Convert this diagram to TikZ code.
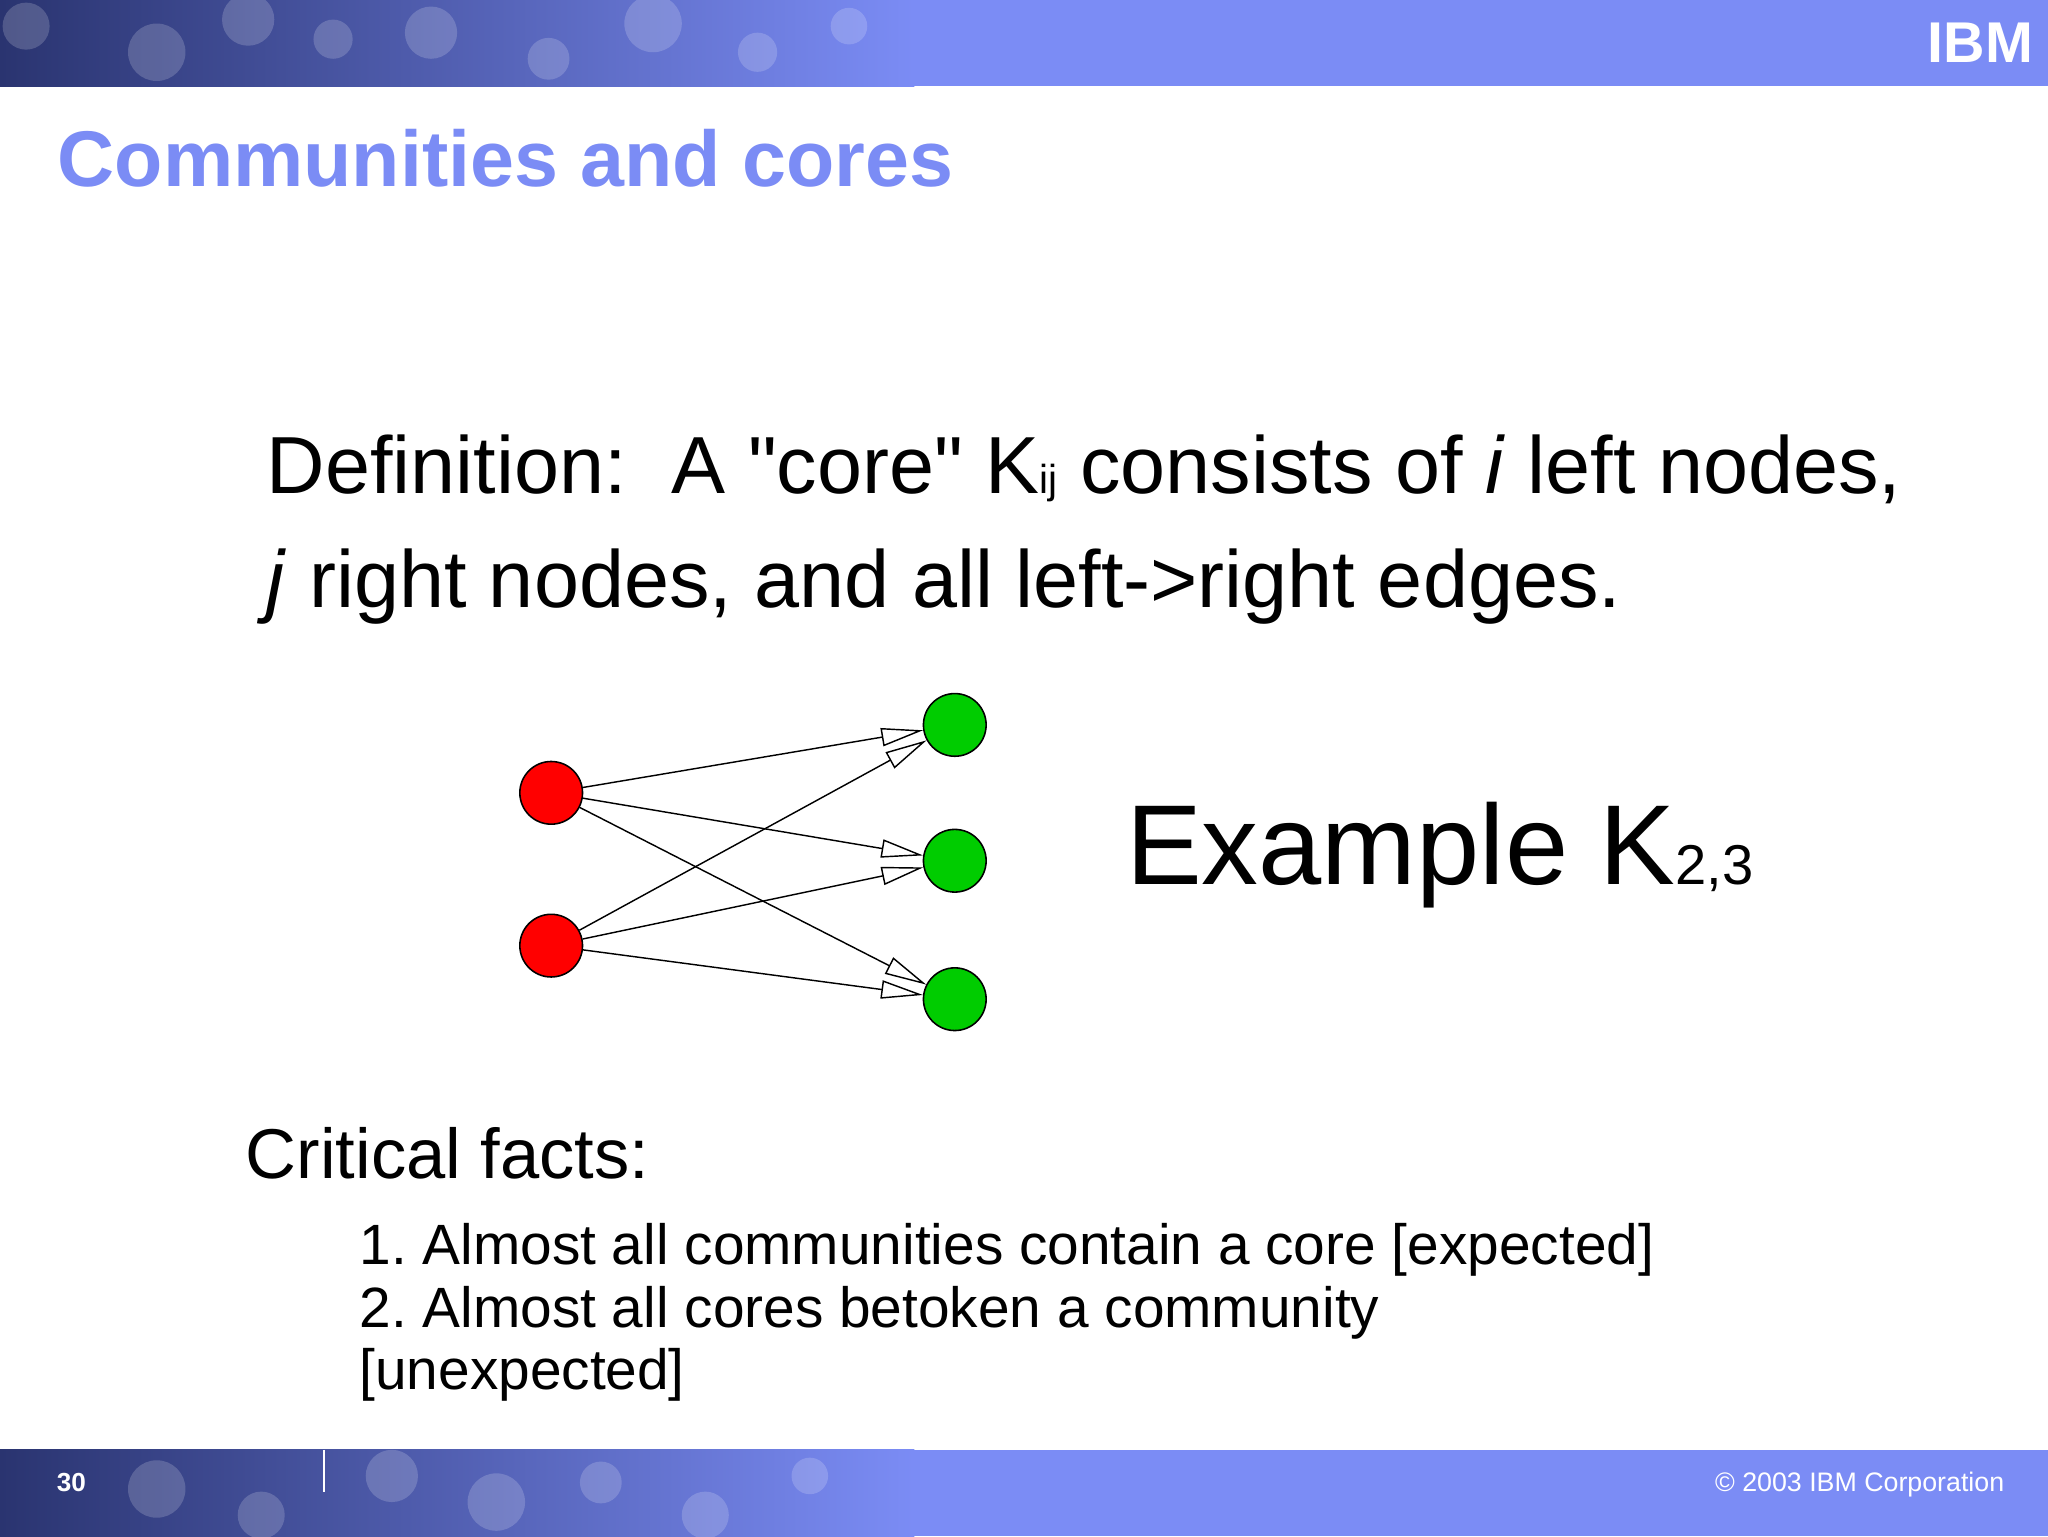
\documentclass[tikz,border=0pt]{standalone}
\usepackage{fontspec}
\setmainfont{Liberation Sans}
\newfontfamily\plainfont{Liberation Sans}
\newcommand{\sq}{{\plainfont\symbol{34}}}
\frenchspacing
\usetikzlibrary{arrows.meta}
\definecolor{ibmblue}{HTML}{7B8CF5}
\definecolor{ibmdark}{HTML}{2A3470}
\definecolor{nred}{HTML}{FF0000}
\definecolor{ngreen}{HTML}{00CC00}
\begin{document}
\begin{tikzpicture}[x=1pt,y=-1pt,
  vert/.style={circle,draw=black,line width=1.2pt,minimum size=48pt,inner sep=0pt},
  edge/.style={line width=1.1pt,-{Triangle[open,length=32pt,width=14pt]}},
  deco/.style={fill=white,fill opacity=0.18,draw=none}]
\useasboundingbox (0,0) rectangle (1568,1176);
\fill[white] (0,0) rectangle (1568,1176);
% bars
\shade[left color=ibmdark,right color=ibmblue] (0,0) rectangle (700,66);
\fill[ibmblue] (699,0) rectangle (1568,66);
\shade[left color=ibmdark,right color=ibmblue] (0,1110) rectangle (700,1176);
\fill[ibmblue] (699,1110) rectangle (1568,1176);
\foreach \x/\y/\r in {20/20/18,120/40/22,190/15/20,255/30/15,330/25/20,420/45/16,500/18/22,580/40/15,650/20/14}{
  \fill[deco] (\x,\y) circle (\r);}
\foreach \x/\y/\r in {120/1140/22,200/1160/18,300/1130/20,380/1150/22,460/1135/16,540/1160/18,620/1130/14}{
  \fill[deco] (\x,\y) circle (\r);}
\draw[white,line width=1pt] (248,1110) -- (248,1142);
\node[anchor=east,text=white,font=\fontsize{44}{44}\selectfont\bfseries] (ibm) at (1560,33) {IBM};
\node[anchor=base west,text=white,font=\fontsize{20}{20}\selectfont\bfseries] (pg) at (40,1142) {30};
\node[anchor=base east,text=white,font=\fontsize{20.5}{20}\selectfont] (cp) at (1538,1142) {© 2003 IBM Corporation};
% title
\node[anchor=base west,inner sep=0,text=ibmblue,font=\fontsize{60.5}{60}\selectfont\bfseries] (title) at (44,143) {Communities and cores};
% definition
\node[anchor=base west,inner sep=0,font=\fontsize{62}{62}\selectfont] (def1) at (204,378)
  {Definition:\ \ A \sq core\sq\ K{\fontsize{31}{31}\selectfont ij} consists of \textit{i} left nodes,};
\node[anchor=base west,inner sep=0,font=\fontsize{62}{62}\selectfont] (def2) at (204,465)
  {\textit{j} right nodes, and all left->right edges.};
% graph
\node[vert,fill=nred] (r1) at (422,607) {};
\node[vert,fill=nred] (r2) at (422,724) {};
\node[vert,fill=ngreen] (g1) at (731,555) {};
\node[vert,fill=ngreen] (g2) at (731,659) {};
\node[vert,fill=ngreen] (g3) at (731,765) {};
\foreach \a in {r1,r2}{\foreach \b in {g1,g2,g3}{\draw[edge] (\a) -- (\b);}}
% example
\node[anchor=base west,inner sep=0,font=\fontsize{87}{87}\selectfont] (ex) at (862,677)
  {Example K{\fontsize{43}{43}\selectfont 2,3}};
% facts
\node[anchor=base west,inner sep=0,font=\fontsize{54}{54}\selectfont] (cf) at (188,902) {Critical facts:};
\node[anchor=base west,inner sep=0,font=\fontsize{43.5}{43}\selectfont] (f1) at (275,968) {1. Almost all communities contain a core [expected]};
\node[anchor=base west,inner sep=0,font=\fontsize{43.5}{43}\selectfont] (f2) at (275,1016) {2. Almost all cores betoken a community};
\node[anchor=base west,inner sep=0,font=\fontsize{43.5}{43}\selectfont] (f3) at (275,1064) {[unexpected]};
\end{tikzpicture}
\end{document}
